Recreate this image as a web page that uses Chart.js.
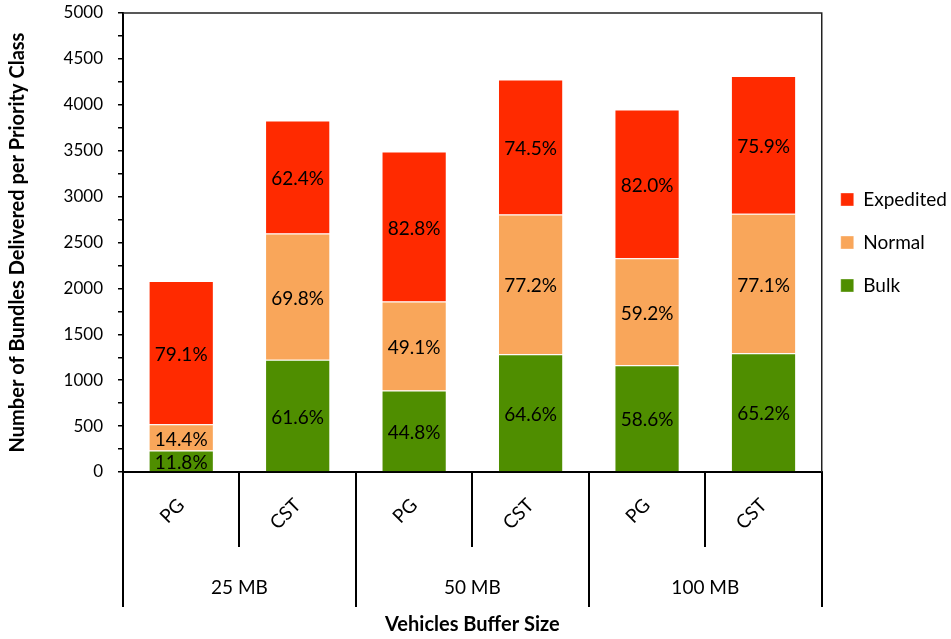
<!DOCTYPE html>
<html>
<head>
<meta charset="utf-8">
<script src="https://cdn.jsdelivr.net/npm/chart.js@4.4.1/dist/chart.umd.min.js"></script>
<style>
  html, body { margin: 0; padding: 0; background: #fff; }
</style>
</head>
<body>
<canvas id="c" width="951" height="639"></canvas>
<script>
// Routing scheme per bar, grouped by vehicle buffer size
const categories = ['PG', 'CST', 'PG', 'CST', 'PG', 'CST'];
const bufferSizes = ['25 MB', '50 MB', '100 MB'];

// Bundles delivered per priority class
const bulk      = [233, 1223, 889, 1283, 1162, 1293];
const normal    = [286, 1374, 969, 1522, 1167, 1521];
const expedited = [1562, 1233, 1634, 1470, 1620, 1500];

// Delivery ratio of each class, printed inside its segment
const bulkPct      = ['11.8%', '61.6%', '44.8%', '64.6%', '58.6%', '65.2%'];
const normalPct    = ['14.4%', '69.8%', '49.1%', '77.2%', '59.2%', '77.1%'];
const expeditedPct = ['79.1%', '62.4%', '82.8%', '74.5%', '82.0%', '75.9%'];

// Y axis: labelled every 500, minor tick marks every 250
const yMin = 0, yMax = 5000, yStep = 250, yLabelStep = 500;

const FONT = 'Lato, "Open Sans", sans-serif';

// Percentages centred in each stacked segment
const segmentLabels = {
  id: 'segmentLabels',
  afterDatasetsDraw(chart) {
    const { ctx, chartArea: a } = chart;
    ctx.save();
    ctx.beginPath();
    ctx.rect(a.left, a.top, a.right - a.left, a.bottom - a.top);
    ctx.clip();
    ctx.font = '19px ' + FONT;
    ctx.fillStyle = '#000';
    ctx.textAlign = 'center';
    ctx.textBaseline = 'middle';
    chart.data.datasets.forEach((ds, i) => {
      chart.getDatasetMeta(i).data.forEach((bar, j) => {
        ctx.fillText(ds.pctLabels[j], bar.x, (bar.y + bar.base) / 2 + 2);
      });
    });
    ctx.restore();
  }
};

// Top and right edges of the plot frame
const plotFrame = {
  id: 'plotFrame',
  afterDraw(chart) {
    const { ctx, chartArea: a } = chart;
    ctx.save();
    ctx.strokeStyle = '#222';
    ctx.lineWidth = 1.5;
    ctx.beginPath();
    ctx.moveTo(a.left, a.top);
    ctx.lineTo(a.right, a.top);
    ctx.lineTo(a.right, a.bottom);
    ctx.stroke();
    ctx.restore();
  }
};

// Pull the legend a little closer to the plot
const legendNudge = {
  id: 'legendNudge',
  afterLayout(chart) {
    if (chart.legend) {
      chart.legend.left -= 5;
      chart.legend.right -= 5;
    }
  }
};

new Chart(document.getElementById('c'), {
  type: 'bar',
  data: {
    labels: categories,
    datasets: [
      { label: 'Bulk', data: bulk, pctLabels: bulkPct,
        backgroundColor: '#4F8E00', borderColor: 'rgba(255,255,255,0.35)', borderWidth: 1 },
      { label: 'Normal', data: normal, pctLabels: normalPct,
        backgroundColor: '#F9A65A', borderColor: 'rgba(255,255,255,0.35)', borderWidth: 1 },
      { label: 'Expedited', data: expedited, pctLabels: expeditedPct,
        backgroundColor: '#FF2A00', borderColor: 'rgba(255,255,255,0.35)', borderWidth: 1 }
    ]
  },
  options: {
    responsive: false,
    animation: false,
    datasets: { bar: { categoryPercentage: 0.56, barPercentage: 1.0 } },
    layout: { padding: { top: 13, left: 0, right: -11, bottom: 0 } },
    plugins: {
      tooltip: { enabled: false },
      legend: {
        position: 'right',
        fullSize: false,
        reverse: true,
        labels: {
          boxWidth: 13, boxHeight: 13, padding: 24,
          color: '#000', font: { family: FONT, size: 19 }
        }
      }
    },
    scales: {
      x: {
        type: 'category',
        stacked: true,
        position: 'bottom',
        weight: 0,
        grid: { offset: true, drawOnChartArea: false, tickLength: 75, color: '#000', lineWidth: 2 },
        border: { color: '#000', width: 2 },
        ticks: { minRotation: 45, maxRotation: 45, autoSkip: false, padding: -53,
                 color: '#000', font: { family: FONT, size: 19 } },
        afterFit(s) { s.height = 75; }
      },
      x2: {
        type: 'category',
        labels: bufferSizes,
        offset: true,
        position: 'bottom',
        weight: 1,
        grid: { offset: true, drawOnChartArea: false, tickLength: 60, color: '#000', lineWidth: 2 },
        border: { display: false },
        ticks: { padding: -31, color: '#000', font: { family: FONT, size: 19 } },
        title: { display: true, text: 'Vehicles Buffer Size', color: '#000',
                 font: { family: FONT, size: 20, weight: 'bold' }, padding: { top: 2, bottom: 2 } },
        afterFit(s) { s.height = 92; }
      },
      y: {
        stacked: true,
        min: yMin, max: yMax,
        ticks: { stepSize: yStep, autoSkip: false, padding: 15, color: '#000',
                 font: { family: FONT, size: 17 },
                 callback: v => (v % yLabelStep === 0 ? v : '') },
        grid: { drawOnChartArea: false, tickLength: 5, color: '#000', lineWidth: 1.5 },
        border: { color: '#000', width: 2 },
        title: { display: true, text: 'Number of Bundles Delivered per Priority Class', color: '#000',
                 font: { family: FONT, size: 20, weight: 'bold' }, padding: { top: 6, bottom: 0 } },
        afterFit(s) { s.width = 123; s.paddingTop = 0; s.paddingBottom = 0; }
      }
    }
  },
  plugins: [segmentLabels, plotFrame, legendNudge]
});
</script>
</body>
</html>
